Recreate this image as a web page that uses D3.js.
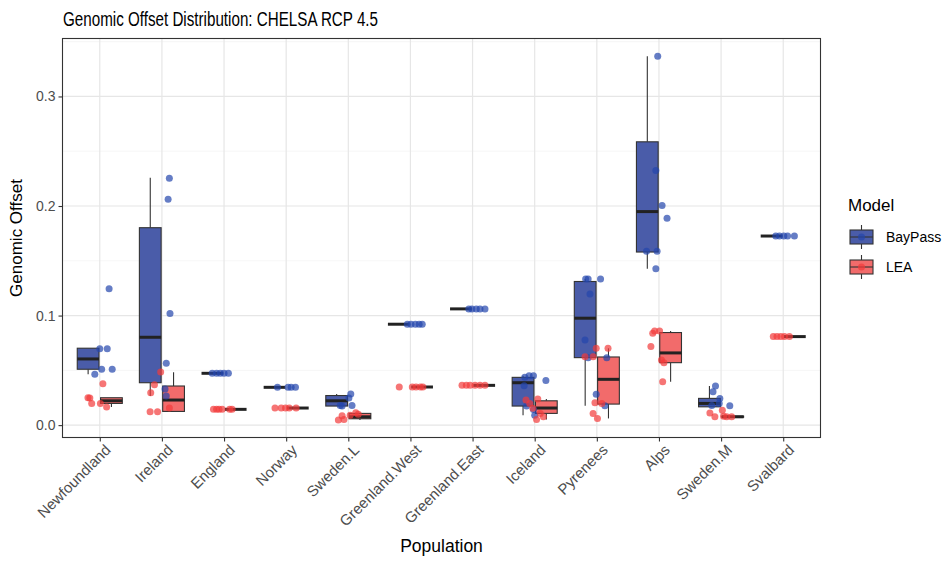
<!DOCTYPE html>
<html>
<head>
<meta charset="utf-8">
<script src="https://cdn.jsdelivr.net/npm/d3@7"></script>
<style>
  html, body { margin: 0; padding: 0; background: #fff; }
  svg { display: block; font-family: "Liberation Sans", Arial, sans-serif; }
</style>
</head>
<body>
<svg id="chart" width="948" height="562"></svg>
<script>
// Populations along the x axis
const populations = ["Newfoundland", "Ireland", "England", "Norway", "Sweden.L",
  "Greenland.West", "Greenland.East", "Iceland", "Pyrenees", "Alps", "Sweden.M", "Svalbard"];
const models = ["BayPass", "LEA"];

// Box summaries per population: [lower whisker, Q1, median, Q3, upper whisker]
const bayPassStats = [
  [0.0464, 0.0510, 0.0604, 0.0702, 0.0702],
  [0.0265, 0.0387, 0.0802, 0.1802, 0.2257],
  [0.0473, 0.0473, 0.0473, 0.0473, 0.0473],
  [0.0345, 0.0345, 0.0345, 0.0345, 0.0345],
  [0.0174, 0.0174, 0.0222, 0.0270, 0.0284],
  [0.0921, 0.0921, 0.0921, 0.0921, 0.0921],
  [0.1061, 0.1061, 0.1061, 0.1061, 0.1061],
  [0.0091, 0.0174, 0.0387, 0.0436, 0.0451],
  [0.0177, 0.0616, 0.0976, 0.1311, 0.1333],
  [0.1427, 0.1580, 0.1949, 0.2586, 0.3367],
  [0.0167, 0.0167, 0.0198, 0.0244, 0.0357],
  [0.1726, 0.1726, 0.1726, 0.1726, 0.1726]
];
const leaStats = [
  [0.0165, 0.0198, 0.0222, 0.0250, 0.0250],
  [0.0122, 0.0125, 0.0229, 0.0357, 0.0482],
  [0.0144, 0.0144, 0.0144, 0.0144, 0.0144],
  [0.0156, 0.0156, 0.0156, 0.0156, 0.0156],
  [0.0046, 0.0058, 0.0076, 0.0107, 0.0113],
  [0.0348, 0.0348, 0.0348, 0.0348, 0.0348],
  [0.0363, 0.0363, 0.0363, 0.0363, 0.0363],
  [0.0052, 0.0107, 0.0156, 0.0222, 0.0238],
  [0.0061, 0.0192, 0.0418, 0.0622, 0.0701],
  [0.0397, 0.0570, 0.0659, 0.0845, 0.0860],
  [0.0070, 0.0072, 0.0076, 0.0082, 0.0082],
  [0.0808, 0.0808, 0.0808, 0.0808, 0.0808]
];

// Individual genomic offsets per population
const bayPassPoints = [
  [0.1244, 0.0698, 0.0698, 0.0510, 0.0510, 0.0464],
  [0.2254, 0.2061, 0.1018, 0.0564, 0.0329, 0.0265],
  [0.0473, 0.0473, 0.0473, 0.0473, 0.0473],
  [0.0345, 0.0345, 0.0345, 0.0345],
  [0.0284, 0.0247, 0.0180, 0.0174, 0.0180],
  [0.0921, 0.0921, 0.0921, 0.0921, 0.0921],
  [0.1061, 0.1061, 0.1061, 0.1061, 0.1061],
  [0.0436, 0.0451, 0.0451, 0.0360, 0.0407, 0.0174, 0.0143, 0.0091],
  [0.1333, 0.1333, 0.1333, 0.1196, 0.0778, 0.0616, 0.0616, 0.0281, 0.0177],
  [0.3367, 0.2324, 0.2004, 0.1888, 0.1586, 0.1586, 0.1427],
  [0.0357, 0.0305, 0.0244, 0.0198, 0.0176, 0.0180],
  [0.1726, 0.1726, 0.1726, 0.1726, 0.1726]
];
const leaPoints = [
  [0.0250, 0.0247, 0.0198, 0.0198, 0.0378, 0.0165],
  [0.0485, 0.0369, 0.0296, 0.0122, 0.0122, 0.0156],
  [0.0144, 0.0144, 0.0144, 0.0144, 0.0144, 0.0144],
  [0.0156, 0.0156, 0.0156, 0.0156, 0.0156],
  [0.0046, 0.0085, 0.0052, 0.0091, 0.0113, 0.0100],
  [0.0348, 0.0348, 0.0348, 0.0348, 0.0348],
  [0.0363, 0.0363, 0.0363, 0.0363, 0.0363, 0.0363],
  [0.0229, 0.0238, 0.0198, 0.0153, 0.0052, 0.0076, 0.0107],
  [0.0701, 0.0701, 0.0625, 0.0625, 0.0204, 0.0198, 0.0107, 0.0061],
  [0.0839, 0.0860, 0.0860, 0.0717, 0.0595, 0.0570, 0.0397],
  [0.0110, 0.0076, 0.0135, 0.0082, 0.0076, 0.0076],
  [0.0808, 0.0808, 0.0808, 0.0808, 0.0808]
];

// Horizontal jitter of each point, as a fraction of the category spacing
const bayPassJitter = [
  [0.15, 0.00, 0.12, 0.03, 0.20, -0.08],
  [0.12, 0.10, 0.13, 0.07, 0.05, 0.07],
  [-0.19, -0.12, -0.06, 0.00, 0.07],
  [-0.14, 0.03, 0.08, 0.15],
  [0.04, 0.01, 0.06, -0.10, -0.13],
  [-0.05, 0.01, 0.08, 0.14, 0.19],
  [-0.06, -0.01, 0.06, 0.12, 0.20],
  [-0.16, -0.09, -0.02, -0.17, 0.18, -0.13, -0.02, 0.00],
  [-0.18, -0.14, 0.06, -0.11, -0.19, -0.14, 0.16, -0.01, 0.13],
  [-0.02, -0.05, 0.05, 0.13, -0.20, -0.03, -0.05],
  [-0.09, -0.13, -0.02, -0.03, 0.14, -0.15],
  [-0.12, -0.06, 0.01, 0.07, 0.18]
];
const leaJitter = [
  [-0.19, -0.16, -0.13, 0.01, 0.05, 0.11],
  [-0.02, -0.12, -0.18, -0.19, -0.07, 0.12],
  [-0.17, -0.12, -0.08, -0.03, 0.09, 0.13],
  [-0.18, -0.08, -0.01, 0.05, 0.16],
  [-0.16, -0.10, -0.07, 0.03, 0.12, 0.16],
  [-0.18, 0.03, 0.09, 0.16, 0.20],
  [-0.17, -0.10, -0.04, 0.04, 0.12, 0.20],
  [-0.14, 0.05, -0.08, -0.03, 0.03, 0.14, 0.09],
  [-0.01, 0.18, -0.06, -0.19, -0.03, 0.08, -0.06, 0.01],
  [-0.10, -0.07, 0.01, -0.13, 0.04, 0.08, 0.06],
  [-0.18, -0.10, 0.02, 0.04, 0.09, 0.17],
  [-0.16, -0.10, -0.04, 0.02, 0.10]
];

const yTicks = [0, 0.1, 0.2, 0.3];
const yMinorTicks = [0.05, 0.15, 0.25, 0.35];

const boxFill = { BayPass: "#4a5ca9", LEA: "#f26b6b" };
const pointFill = { BayPass: "#2446ad", LEA: "#f23a3a" };

const svg = d3.select("#chart");
const panel = { left: 62.5, right: 820.5, top: 38.5, bottom: 437.5 };

const x = d3.scalePoint().domain(populations)
  .range([panel.left, panel.right]).padding(0.6);
const y = d3.scaleLinear().domain([-0.0113, 0.3529])
  .range([panel.bottom, panel.top]);
const dodge = d3.scaleBand().domain(models)
  .range([-x.step() * 0.375, x.step() * 0.375]);
const boxW = x.step() * 0.35;

// Title
svg.append("text").attr("x", 63).attr("y", 26)
  .attr("font-size", 19.5).attr("fill", "#000")
  .attr("textLength", 315).attr("lengthAdjust", "spacingAndGlyphs")
  .text("Genomic Offset Distribution: CHELSA RCP 4.5");

// Grid
const grid = svg.append("g");
grid.selectAll("line.minor").data(yMinorTicks).join("line")
  .attr("x1", panel.left).attr("x2", panel.right)
  .attr("y1", d => y(d)).attr("y2", d => y(d))
  .attr("stroke", "#f2f2f2").attr("stroke-width", 0.7);
grid.selectAll("line.majory").data(yTicks).join("line")
  .attr("x1", panel.left).attr("x2", panel.right)
  .attr("y1", d => y(d)).attr("y2", d => y(d))
  .attr("stroke", "#e6e6e6").attr("stroke-width", 1.2);
grid.selectAll("line.majorx").data(populations).join("line")
  .attr("x1", d => x(d)).attr("x2", d => x(d))
  .attr("y1", panel.top).attr("y2", panel.bottom)
  .attr("stroke", "#e6e6e6").attr("stroke-width", 1.2);

// Boxes
const boxes = [];
populations.forEach((p, i) => {
  boxes.push({ pop: p, model: "BayPass", s: bayPassStats[i] });
  boxes.push({ pop: p, model: "LEA", s: leaStats[i] });
});
const bx = d => x(d.pop) + dodge(d.model) + dodge.bandwidth() / 2;
const boxG = svg.append("g").selectAll("g").data(boxes).join("g");
boxG.append("line")
  .attr("x1", bx).attr("x2", bx)
  .attr("y1", d => y(d.s[4])).attr("y2", d => y(d.s[3]))
  .attr("stroke", "#333").attr("stroke-width", 1.1);
boxG.append("line")
  .attr("x1", bx).attr("x2", bx)
  .attr("y1", d => y(d.s[1])).attr("y2", d => y(d.s[0]))
  .attr("stroke", "#333").attr("stroke-width", 1.1);
boxG.append("rect")
  .attr("x", d => bx(d) - boxW / 2).attr("width", boxW)
  .attr("y", d => y(d.s[3])).attr("height", d => Math.max(0, y(d.s[1]) - y(d.s[3])))
  .attr("fill", d => boxFill[d.model]).attr("stroke", "#333").attr("stroke-width", 1.1);
boxG.append("line")
  .attr("x1", d => bx(d) - boxW / 2).attr("x2", d => bx(d) + boxW / 2)
  .attr("y1", d => y(d.s[2])).attr("y2", d => y(d.s[2]))
  .attr("stroke", "#222").attr("stroke-width", 3);

// Jittered points
const pts = [];
populations.forEach((p, i) => {
  bayPassPoints[i].forEach((v, j) => pts.push({ pop: p, model: "BayPass", v, j: bayPassJitter[i][j] }));
  leaPoints[i].forEach((v, j) => pts.push({ pop: p, model: "LEA", v, j: leaJitter[i][j] }));
});
svg.append("g").selectAll("circle").data(pts).join("circle")
  .attr("cx", d => x(d.pop) + d.j * x.step())
  .attr("cy", d => y(d.v))
  .attr("r", 3.5)
  .attr("fill", d => pointFill[d.model])
  .attr("fill-opacity", 0.7);

// Panel border
svg.append("rect")
  .attr("x", panel.left).attr("y", panel.top)
  .attr("width", panel.right - panel.left).attr("height", panel.bottom - panel.top)
  .attr("fill", "none").attr("stroke", "#333").attr("stroke-width", 1.1);

// Axes
const yAxis = svg.append("g").attr("transform", `translate(${panel.left},0)`)
  .call(d3.axisLeft(y).tickValues(yTicks).tickFormat(d3.format(".1f")).tickSize(4).tickPadding(3));
const xAxis = svg.append("g").attr("transform", `translate(0,${panel.bottom})`)
  .call(d3.axisBottom(x).tickSize(4).tickPadding(3));
[yAxis, xAxis].forEach(a => {
  a.select(".domain").remove();
  a.selectAll(".tick line").attr("stroke", "#333").attr("stroke-width", 1.1);
  a.selectAll(".tick text").attr("fill", "#4d4d4d")
    .attr("font-family", "'Liberation Sans', Arial, sans-serif");
});
yAxis.selectAll(".tick text").attr("font-size", 14);
xAxis.selectAll(".tick text")
  .attr("font-size", 15)
  .attr("text-anchor", "end")
  .attr("transform", "translate(-1,1) rotate(-45)")
  .attr("dy", "0.7em");

// Axis titles
svg.append("text").attr("x", (panel.left + panel.right) / 2).attr("y", 552)
  .attr("text-anchor", "middle").attr("font-size", 17.5).text("Population");
svg.append("text")
  .attr("transform", `translate(22,${(panel.top + panel.bottom) / 2}) rotate(-90)`)
  .attr("text-anchor", "middle").attr("font-size", 17).text("Genomic Offset");

// Legend
const legend = svg.append("g").attr("transform", "translate(848,0)");
legend.append("text").attr("x", 0).attr("y", 211).attr("font-size", 17).text("Model");
models.forEach((m, i) => {
  const cy = 237 + i * 30;
  const g = legend.append("g");
  g.append("line").attr("x1", 13.5).attr("x2", 13.5).attr("y1", cy - 12).attr("y2", cy + 12)
    .attr("stroke", "#333").attr("stroke-width", 1.1);
  g.append("rect").attr("x", 2).attr("y", cy - 7).attr("width", 23).attr("height", 14)
    .attr("fill", boxFill[m]).attr("stroke", "#333").attr("stroke-width", 1.1);
  g.append("line").attr("x1", 2).attr("x2", 25).attr("y1", cy).attr("y2", cy)
    .attr("stroke", "#333").attr("stroke-width", 1.1);
  g.append("circle").attr("cx", 13.5).attr("cy", cy).attr("r", 3.5)
    .attr("fill", pointFill[m]).attr("fill-opacity", 0.7);
  g.append("text").attr("x", 38).attr("y", cy).attr("dy", "0.35em")
    .attr("font-size", 14).text(m);
});
</script>
</body>
</html>
